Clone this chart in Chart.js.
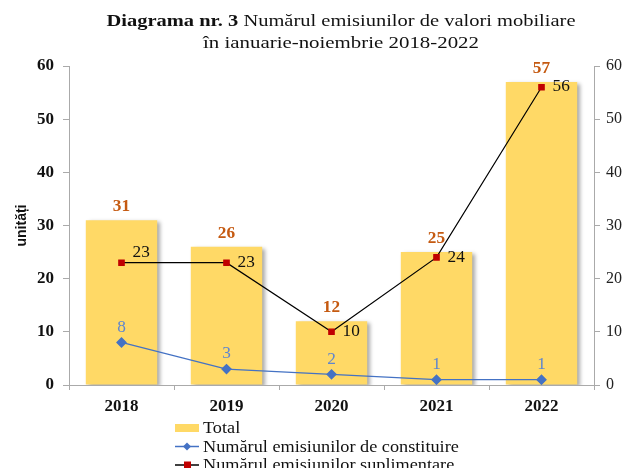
<!DOCTYPE html>
<html>
<head>
<meta charset="utf-8">
<script src="https://cdn.jsdelivr.net/npm/chart.js@4.4.1/dist/chart.umd.min.js"></script>
<style>
  html, body { margin: 0; padding: 0; background: #fff; overflow: hidden; }
  #grafic { display: block; }
</style>
</head>
<body>
<canvas id="grafic" width="627" height="468"></canvas>
<script>
// date citite din diagrama
var ani = ['2018', '2019', '2020', '2021', '2022'];
var total = [31, 26, 12, 25, 57];
var constituire = [8, 3, 2, 1, 1];
var suplimentare = [23, 23, 10, 24, 56];
var tickuri = [0, 10, 20, 30, 40, 50, 60];

var titlu1Bold = 'Diagrama nr. 3';
var titlu1 = ' Numărul emisiunilor de valori mobiliare';
var titlu2 = 'în ianuarie-noiembrie 2018-2022';

var serif = '"Liberation Serif", "Times New Roman", serif';

// text intins pe orizontala (originalul e usor latit)
function textLat(ctx, t, x, y, sx) {
  ctx.save();
  ctx.translate(x, y);
  ctx.scale(sx, 1);
  ctx.fillText(t, 0, 0);
  ctx.restore();
}

// umbra sub bare
var umbra = {
  id: 'umbra',
  beforeDatasetDraw: function (chart, args) {
    if (args.meta.type !== 'bar') return;
    var ctx = chart.ctx;
    ctx.save();
    ctx.shadowColor = 'rgba(0,0,0,0.35)';
    ctx.shadowOffsetX = 3;
    ctx.shadowOffsetY = 2;
    ctx.shadowBlur = 4;
  },
  afterDatasetDraw: function (chart, args) {
    if (args.meta.type !== 'bar') return;
    chart.ctx.restore();
  }
};

// etichete de valori
var etichete = {
  id: 'etichete',
  afterDatasetsDraw: function (chart) {
    var ctx = chart.ctx;
    ctx.save();
    ctx.textBaseline = 'middle';
    // total, deasupra barelor
    chart.getDatasetMeta(0).data.forEach(function (bar, i) {
      ctx.font = 'bold 16px ' + serif;
      ctx.fillStyle = '#C55A11';
      ctx.textAlign = 'center';
      textLat(ctx, total[i], bar.x, bar.y - 13, 1.08);
    });
    // constituire, deasupra punctelor
    chart.getDatasetMeta(1).data.forEach(function (pt, i) {
      ctx.font = '16px ' + serif;
      ctx.fillStyle = '#5F86CF';
      ctx.textAlign = 'center';
      textLat(ctx, constituire[i], pt.x, pt.y - 15, 1.08);
    });
    // suplimentare, la dreapta punctelor
    chart.getDatasetMeta(2).data.forEach(function (pt, i) {
      ctx.font = '16px ' + serif;
      ctx.fillStyle = '#111';
      ctx.textAlign = 'left';
      textLat(ctx, suplimentare[i], pt.x + 11, pt.y - (i === 0 ? 10 : 0), 1.08);
    });
    ctx.restore();
  }
};

// titlu si legenda
var decor = {
  id: 'decor',
  afterDraw: function (chart) {
    var ctx = chart.ctx;
    ctx.save();
    ctx.fillStyle = '#111';
    ctx.textBaseline = 'middle';
    ctx.textAlign = 'left';
    ctx.font = 'bold 17px ' + serif;
    var wb = ctx.measureText(titlu1Bold).width;
    ctx.font = '17px ' + serif;
    var wn = ctx.measureText(titlu1).width;
    var w2 = ctx.measureText(titlu2).width;
    var s1 = 469 / (wb + wn);
    var s2 = 276 / w2;
    var cx = 341;
    var x0 = cx - (wb + wn) * s1 / 2;
    ctx.font = 'bold 17px ' + serif;
    textLat(ctx, titlu1Bold, x0, 22, s1);
    ctx.font = '17px ' + serif;
    textLat(ctx, titlu1, x0 + wb * s1, 22, s1);
    textLat(ctx, titlu2, cx - w2 * s2 / 2, 44, s2);

    // legenda
    var lx = 175, tx = 203;
    ctx.font = '16px ' + serif;
    chart.data.datasets.forEach(function (ds, i) {
      var y = 428 + i * 18.5;
      if (ds.type === 'bar') {
        ctx.fillStyle = ds.backgroundColor;
        ctx.fillRect(lx, y - 4, 24, 8);
      } else {
        ctx.strokeStyle = ds.borderColor;
        ctx.lineWidth = 1.5;
        ctx.beginPath();
        ctx.moveTo(lx, y);
        ctx.lineTo(lx + 24, y);
        ctx.stroke();
        ctx.fillStyle = ds.pointBackgroundColor;
        if (ds.pointStyle === 'rectRot') {
          ctx.beginPath();
          ctx.moveTo(lx + 12, y - 4);
          ctx.lineTo(lx + 16, y);
          ctx.lineTo(lx + 12, y + 4);
          ctx.lineTo(lx + 8, y);
          ctx.closePath();
          ctx.fill();
        } else {
          ctx.fillRect(lx + 9, y - 3.5, 7, 7);
        }
      }
      ctx.fillStyle = '#111';
      textLat(ctx, ds.label, tx, y + 1, 1.14);
    });
    ctx.restore();
  }
};

var ctx = document.getElementById('grafic').getContext('2d');
var grafic = new Chart(ctx, {
  data: {
    labels: ani,
    datasets: [{
      type: 'bar',
      label: 'Total',
      data: total,
      backgroundColor: '#FFD966',
      barPercentage: 0.68,
      categoryPercentage: 1,
      yAxisID: 'y',
      order: 3
    }, {
      type: 'line',
      label: 'Numărul emisiunilor de constituire',
      data: constituire,
      borderColor: '#4472C4',
      borderWidth: 1.3,
      pointStyle: 'rectRot',
      pointRadius: 4.5,
      pointBackgroundColor: '#4472C4',
      pointBorderColor: '#4472C4',
      yAxisID: 'y',
      order: 1
    }, {
      type: 'line',
      label: 'Numărul emisiunilor suplimentare',
      data: suplimentare,
      borderColor: '#000',
      borderWidth: 1.2,
      pointStyle: 'rect',
      pointRadius: 3.8,
      pointBackgroundColor: '#C00000',
      pointBorderColor: '#C00000',
      yAxisID: 'y1',
      order: 2
    }]
  },
  options: {
    responsive: false,
    animation: false,
    devicePixelRatio: 1,
    layout: { padding: { top: 66, left: 0, right: 0, bottom: 55 } },
    plugins: {
      legend: { display: false },
      tooltip: { enabled: false }
    },
    scales: {
      x: {
        offset: true,
        grid: { offset: true, drawOnChartArea: false, drawTicks: true, tickLength: 5, color: '#aaa' },
        border: { color: '#aaa' },
        ticks: { color: '#111', font: { family: serif, size: 17, weight: 'bold' }, padding: 6 },
        afterFit: function (s) { s.height = 28; }
      },
      y: {
        position: 'left',
        min: 0, max: 60,
        afterBuildTicks: function (s) { s.ticks = tickuri.map(function (v) { return { value: v }; }); },
        grid: { drawOnChartArea: false, drawTicks: true, tickLength: 6, color: '#aaa' },
        border: { color: '#aaa' },
        ticks: { color: '#111', font: { family: serif, size: 17, weight: 'bold' }, padding: 9 },
        title: {
          display: true,
          text: 'unități',
          color: '#111',
          font: { family: '"Liberation Sans", Arial, sans-serif', size: 14, weight: 'bold' },
          padding: { top: 14, bottom: 0 }
        },
        afterFit: function (s) { s.width = 69; }
      },
      y1: {
        position: 'right',
        min: 0, max: 60,
        afterBuildTicks: function (s) { s.ticks = tickuri.map(function (v) { return { value: v }; }); },
        grid: { drawOnChartArea: false, drawTicks: true, tickLength: 6, color: '#aaa' },
        border: { color: '#aaa' },
        ticks: { color: '#222', font: { family: serif, size: 16 }, padding: 6 },
        afterFit: function (s) { s.width = 33; }
      }
    }
  },
  plugins: [umbra, etichete, decor]
});
</script>
</body>
</html>
